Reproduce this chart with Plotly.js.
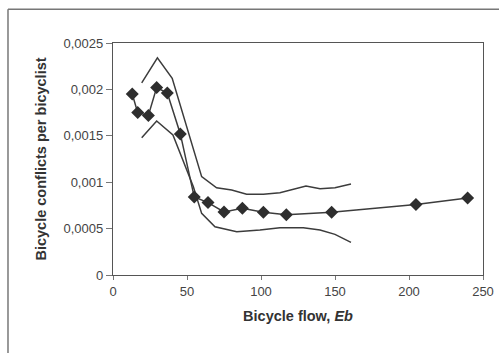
<!DOCTYPE html>
<html><head><meta charset="utf-8">
<script src="https://cdn.plot.ly/plotly-3.0.1.min.js"></script>
<style>html,body{margin:0;padding:0;background:#fff}#chart{width:499px;height:353px}</style>
</head><body><div id="chart"></div>
<script>
// Mean observed conflicts
const flowMean = [13.0, 16.7, 23.9, 29.5, 36.7, 45.5, 54.9, 64.2, 75.0, 87.4, 101.6, 117.1, 147.7, 204.7, 239.6];
const conflictMean = [0.00195, 0.00175, 0.00172, 0.00202, 0.00196, 0.00152, 0.00084, 0.00078, 0.00068, 0.00072, 0.000675, 0.00065, 0.000675, 0.00076, 0.00083];
// Upper band
const flowUpper = [19.4, 30.0, 40.0, 59.9, 70.0, 80.2, 90.3, 101.6, 112.8, 130.4, 139.9, 150.0, 160.8];
const conflictUpper = [0.00207, 0.00234, 0.00212, 0.00106, 0.00094, 0.000915, 0.00087, 0.00087, 0.000886, 0.00096, 0.00093, 0.00094, 0.00098];
// Lower band
const flowLower = [19.4, 29.5, 40.5, 54.3, 59.9, 68.9, 83.6, 99.3, 112.8, 128.6, 139.9, 150.0, 160.8];
const conflictLower = [0.00148, 0.00166, 0.00151, 0.00095, 0.000664, 0.00052, 0.000466, 0.000484, 0.00051, 0.00051, 0.000484, 0.000438, 0.000352];

const xTickVals = [0, 50, 100, 150, 200, 250];
const xTickText = ['0', '50', '100', '150', '200', '250'];
const yTickVals = [0, 0.0005, 0.001, 0.0015, 0.002, 0.0025];
const yTickText = ['0', '0,0005', '0,001', '0,0015', '0,002', '0,0025'];

const lineCol = '#3c3c3c';
const traces = [
  {x: flowUpper, y: conflictUpper, mode: 'lines', line: {color: lineCol, width: 1.5}, hoverinfo: 'skip'},
  {x: flowLower, y: conflictLower, mode: 'lines', line: {color: lineCol, width: 1.5}, hoverinfo: 'skip'},
  {x: flowMean, y: conflictMean, mode: 'lines+markers', line: {color: lineCol, width: 1.5},
   marker: {symbol: 'diamond', size: 10, color: '#2e2e2e'}}
];

const font = {family: 'Liberation Sans, Arial, sans-serif', color: '#333', size: 12};
const layout = {
  width: 499, height: 353,
  margin: {l: 113, r: 16, t: 43, b: 78},
  paper_bgcolor: '#fff', plot_bgcolor: '#fff',
  showlegend: false,
  font: font,
  xaxis: {
    range: [0, 250], tickvals: xTickVals, ticktext: xTickText,
    showgrid: false, zeroline: false, showline: true, mirror: true,
    linecolor: '#555', linewidth: 1.2, ticks: 'outside', ticklen: 4, tickcolor: '#777',
    tickfont: {size: 13, color: '#444'},
    title: {text: '<b>Bicycle flow, <i>Eb</i></b>', font: {size: 14.5, color: '#333'}, standoff: 13}
  },
  yaxis: {
    range: [0, 0.0025], tickvals: yTickVals, ticktext: yTickText,
    showgrid: false, zeroline: false, showline: true, mirror: true,
    linecolor: '#555', linewidth: 1.2, ticks: 'outside', ticklen: 6, tickcolor: '#777',
    tickfont: {size: 13, color: '#444'},
    title: {text: '<b>Bicycle conflicts per bicyclist</b>', font: {size: 14.5, color: '#333'}, standoff: 13}
  },
  shapes: [
    {type: 'line', xref: 'paper', yref: 'paper', x0: -0.2838, x1: -0.2838, y0: 1.145, y1: -0.4,
     line: {color: '#777', width: 1.5}},
    {type: 'line', xref: 'paper', yref: 'paper', x0: -0.2838, x1: 1.1, y0: 1.145, y1: 1.145,
     line: {color: '#777', width: 1.5}}
  ]
};
Plotly.newPlot('chart', traces, layout, {displayModeBar: false, staticPlot: true});
</script></body></html>
